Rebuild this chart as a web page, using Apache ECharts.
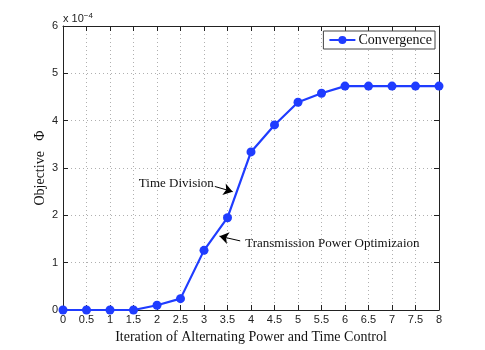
<!DOCTYPE html>
<html>
<head>
<meta charset="utf-8">
<script src="https://cdn.jsdelivr.net/npm/echarts@6/dist/echarts.min.js"></script>
<style>
  html, body { margin: 0; padding: 0; background: #fff; }
  #chart { width: 485px; height: 350px; }
</style>
</head>
<body>
<div id="chart"></div>
<script>
// values (objective in units of 1e-4)
var iterations = [0, 0.5, 1, 1.5, 2, 2.5, 3, 3.5, 4, 4.5, 5, 5.5, 6, 6.5, 7, 7.5, 8];
var objective  = [0, 0, 0, 0, 0.10, 0.24, 1.26, 1.95, 3.34, 3.91, 4.39, 4.58, 4.73, 4.73, 4.73, 4.73, 4.73];

// annotation arrows, [tail, head] in data coords
var timeArrow  = [[3.23, 2.61], [3.61, 2.50]];
var powerArrow = [[3.77, 1.46], [3.33, 1.56]];

var serif = '"Liberation Serif", "Times New Roman", serif';
var sans  = '"Liberation Sans", Arial, sans-serif';

var points = iterations.map(function (x, i) { return [x, objective[i]]; });

var myChart = echarts.init(document.getElementById('chart'));

var gridLine = { show: true, lineStyle: { color: '#b0b0b0', type: [1, 3], width: 1 } };
var tick = { show: true, inside: true, length: 5, lineStyle: { color: '#222' } };
var frameLine = { show: true, onZero: false, lineStyle: { color: '#222', width: 1 } };

myChart.setOption({
    animation: false,
    backgroundColor: '#fff',
    grid: { left: 63, right: 46, top: 26, bottom: 40, show: false },
    legend: {
        data: ['Convergence'],
        right: 50, top: 31,
        padding: [2, 3, 2, 5],
        borderColor: '#444', borderWidth: 1,
        backgroundColor: '#fff',
        itemWidth: 26, itemHeight: 10, itemGap: 4,
        textStyle: { fontFamily: serif, fontSize: 14, color: '#111', padding: [0, 0, 0, -2] }
    },
    xAxis: [
        {
            type: 'value', min: 0, max: 8, interval: 0.5,
            name: 'Iteration of Alternating Power and Time Control',
            nameLocation: 'middle', nameGap: 15,
            nameTextStyle: { fontFamily: serif, fontSize: 14, color: '#111' },
            axisLine: frameLine,
            axisTick: tick,
            axisLabel: { fontFamily: sans, fontSize: 11, color: '#222', margin: 4 },
            splitLine: gridLine
        },
        {
            type: 'value', min: 0, max: 8, interval: 0.5, position: 'top',
            axisLine: frameLine,
            axisTick: tick,
            axisLabel: { show: false },
            splitLine: { show: false }
        }
    ],
    yAxis: [
        {
            type: 'value', min: 0, max: 6, interval: 1,
            name: 'Objective   \u03A6',
            nameLocation: 'middle', nameGap: 16, nameMoveOverlap: false,
            nameTextStyle: { fontFamily: serif, fontSize: 14, color: '#111' },
            axisLine: frameLine,
            axisTick: tick,
            axisLabel: { fontFamily: sans, fontSize: 11, color: '#222', margin: 5 },
            splitLine: gridLine
        },
        {
            type: 'value', min: 0, max: 6, interval: 1, position: 'right',
            axisLine: frameLine,
            axisTick: tick,
            axisLabel: { show: false },
            splitLine: { show: false }
        }
    ],
    series: [
        {
            name: 'Convergence',
            type: 'line',
            data: points,
            color: '#1f3cff',
            lineStyle: { width: 2.2, color: '#1f3cff' },
            symbol: 'circle', symbolSize: 9,
            itemStyle: { color: '#1f3cff' },
            markLine: {
                silent: true,
                symbol: ['none', 'arrow'],
                symbolSize: 9,
                lineStyle: { color: '#000', width: 1, type: 'solid' },
                label: { show: false },
                data: [
                    [{ coord: timeArrow[0] }, { coord: timeArrow[1] }],
                    [{ coord: powerArrow[0] }, { coord: powerArrow[1] }]
                ]
            }
        }
    ]
});

// text annotations placed from data coords
var tdPos = myChart.convertToPixel({ gridIndex: 0 }, timeArrow[0]);
var tpPos = myChart.convertToPixel({ gridIndex: 0 }, powerArrow[0]);

myChart.setOption({
    graphic: [
        {
            type: 'text', left: 63, top: 12,
            style: {
                text: '{a|x 10}{b|\u22124}',
                rich: {
                    a: { fontFamily: sans, fontSize: 11, fill: '#222' },
                    b: { fontFamily: sans, fontSize: 8, fill: '#222', verticalAlign: 'top', padding: [0, 0, 6, 0] }
                }
            }
        },
        {
            type: 'text', x: tdPos[0] - 1, y: tdPos[1] - 3,
            style: { text: 'Time Division', fontFamily: serif, fontSize: 13, fill: '#111', align: 'right', verticalAlign: 'middle' }
        },
        {
            type: 'text', x: tpPos[0] + 5, y: tpPos[1] + 3,
            style: { text: 'Transmission Power Optimizaion', fontFamily: serif, fontSize: 13, fill: '#111', align: 'left', verticalAlign: 'middle' }
        }
    ]
});
</script>
</body>
</html>
